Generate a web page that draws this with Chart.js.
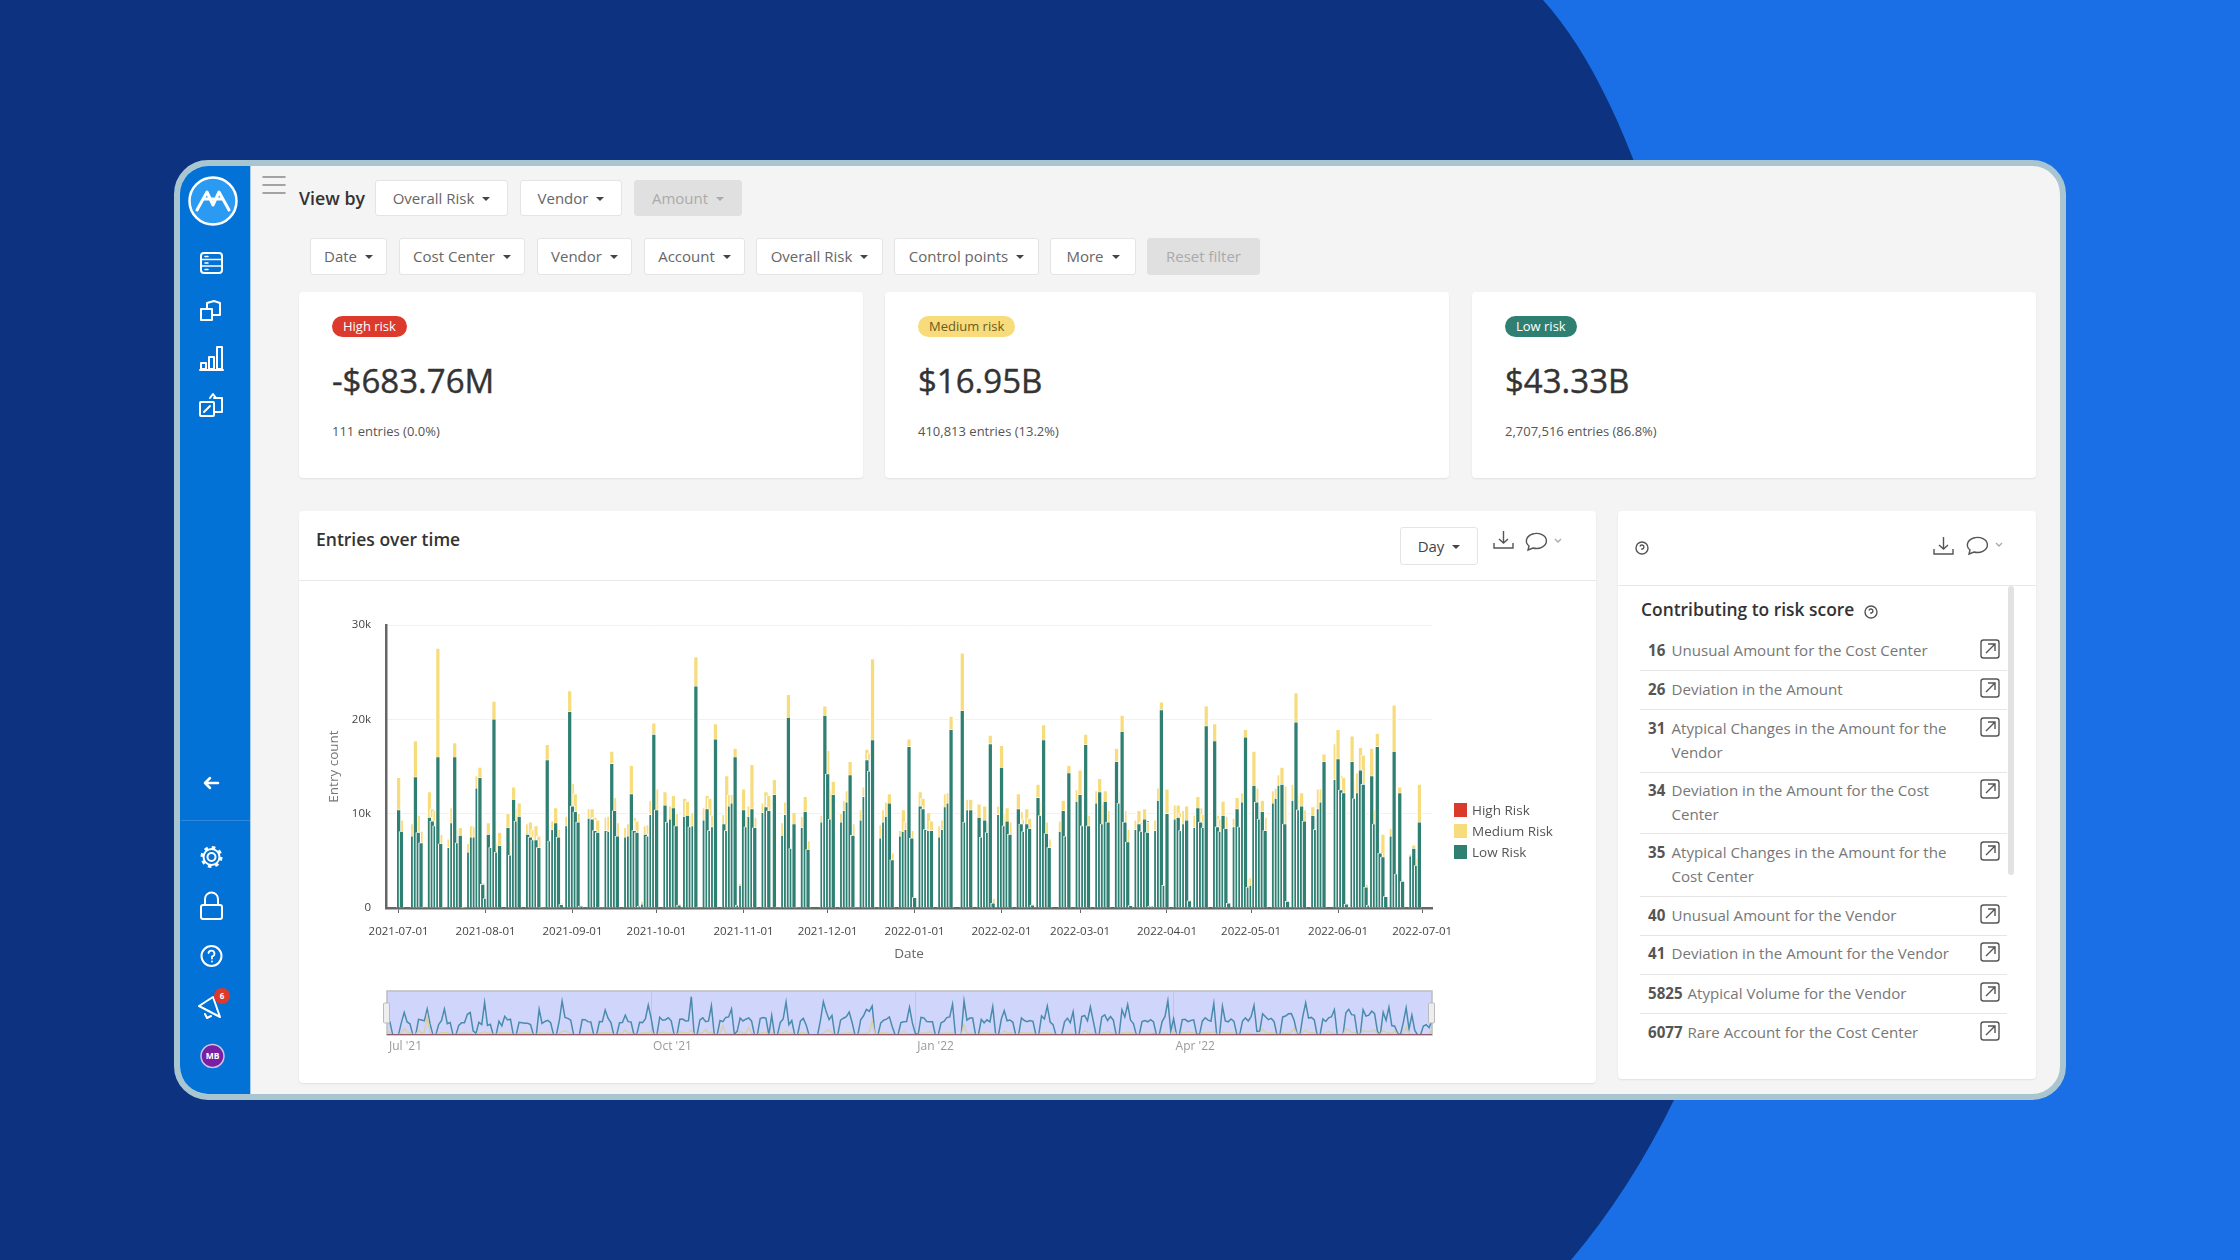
<!DOCTYPE html>
<html>
<head>
<meta charset="utf-8">
<title>Entries over time</title>
<script src="https://cdn.jsdelivr.net/npm/chart.js@4/dist/chart.umd.min.js"></script>
<style>
html, body { margin: 0; padding: 0; width: 2240px; height: 1260px; overflow: hidden; background: #0d3380; font-family: "Open Sans", sans-serif; color: #333; }
.abs, .btn, .card { position: absolute; }
.frame { left: 174px; top: 160px; width: 1880px; height: 928px; border: 6px solid #a9c6d0; border-radius: 34px; background: #f4f4f4; overflow: hidden; }
.side { position: absolute; left: 0; top: 0; width: 70px; height: 100%; background: #0272d6; border-right: 1px solid #a8cdf0; }
.btn { background: #fff; border: 1px solid #e4e4e4; border-radius: 3px; box-sizing: border-box; font-size: 15px; color: #666; display: flex; align-items: center; justify-content: center; gap: 8px; padding-bottom: 1px; }
.btn::after { content: ""; border-left: 4.5px solid transparent; border-right: 4.5px solid transparent; border-top: 4.5px solid #444; margin-top: 2px; }
.btn.off { background: #e0e0e0; border-color: #e0e0e0; color: #aaa; }
.btn.off::after { border-top-color: #aaa; }
.btn.plain::after { display: none; }
.card { background: #fff; border-radius: 4px; box-shadow: 0 1px 2px rgba(0,0,0,.08); }
.badge { position: absolute; left: 33px; top: 24px; height: 21px; line-height: 21px; border-radius: 11px; padding: 0 11px; font-size: 13px; }
.big { position: absolute; left: 33px; top: 65px; font-size: 33px; font-weight: 400; -webkit-text-stroke: 0.4px #333; line-height: 48px; color: #333; }
.sub { position: absolute; left: 33px; top: 128.5px; font-size: 13px; line-height: 20px; color: #555; }
.legend { font-size: 13.5px; color: #555; line-height: 14px; }
.legend i { position: absolute; left: -18px; width: 13px; height: 14px; }
.row { position: absolute; left: 1648px; font-size: 15.1px; line-height: 23.5px; color: #777; }
.row b { color: #555; font-weight: 700; }
.rule { position: absolute; left: 1640px; width: 367px; height: 1px; background: #e6e6e6; }
svg { position: absolute; overflow: visible; }
</style>
</head>
<body>
<svg class="abs" style="left:0;top:0" width="2240" height="1260"><path d="M1543 0 C1680 150 1790 640 1674 1100 Q1630 1190 1571 1260 L2240 1260 L2240 0 Z" fill="#1a6fe6"/></svg>
<div class="abs frame"><div class="side"></div></div>
<div id="ui"></div>

<svg class="icons" style="left:0;top:0" width="2240" height="1260" fill="none" stroke="#fff" stroke-width="2" stroke-linejoin="round" stroke-linecap="round">
  <circle cx="213" cy="201" r="23.5" fill="#2b9af3" stroke-width="2.5"/>
  <path d="M197 210 L207 192 L213 205 L219 192 L229 210 M203 199 L223 199" stroke-width="3"/>
  <rect x="201" y="253" width="21" height="20" rx="3"/><path d="M201 259.5H222M201 266H222M205 256.5H208M205 263H208M205 269.5H208" stroke-width="1.5"/>
  <path d="M201 309H212V320H201Z M207 309V303L214 301L220 303V315H212" />
  <path d="M201 369V363H206V369ZM209 369V357H214V369ZM217 369V347H222V369Z"/><path d="M200 370H223"/>
  <rect x="200" y="402" width="14" height="14" rx="1"/><path d="M214 398H222V412H214M210 398L213 394L216 398M204 412L210 406"/>
  <path d="M205 783H218M205 783L210 778M205 783L210 788" stroke-width="2.5"/>
  <circle cx="211.500" cy="857" r="4"/><circle cx="211.500" cy="857" r="8"/><circle cx="211.500" cy="857" r="9.500" stroke-width="3" stroke-linecap="butt" stroke-dasharray="3.500 3.960"/>
  <rect x="201" y="905" width="21" height="14" rx="2"/><path d="M205 905V899A6.500 6.500 0 0 1 218 899V905"/>
  <circle cx="211.500" cy="956" r="10"/><path d="M208.500 953A3 3 0 1 1 212 956.500V958.500M212 961.500V961.600" stroke-width="1.8"/>
  <path d="M199 1006L213 997L220 1017ZM205 1014L207 1018L211 1016"/>
  <circle cx="222" cy="996" r="8" fill="#dc3a2c" stroke="none"/>
  <circle cx="212.500" cy="1056" r="11.500" fill="#7b1fa2" stroke="#cfc2e6" stroke-width="1.500"/>
  <path d="M263 177H285M263 185H285M263 193H285" stroke="#888" stroke-width="1.5"/>
</svg>
<div class="abs" style="left:218px;top:989px;width:8px;text-align:center;font-size:8px;color:#fff;line-height:14px;font-weight:700">6</div>
<div class="abs" style="left:200px;top:1049px;width:25px;text-align:center;font-size:8.5px;color:#fff;line-height:14px;font-weight:700">MB</div>
<div class="abs" style="left:181px;top:820px;width:69px;height:1px;background:#2e88dd"></div>

<canvas id="mainChart" class="abs" style="left:320px;top:610px"></canvas>
<canvas id="brushChart" class="abs" style="left:360px;top:985px"></canvas>
<svg class="icons" style="left:0;top:0;pointer-events:none" width="2240" height="1260">
  <rect x="383.500" y="1003" width="6" height="20" rx="1" fill="#eee" stroke="#bbb"/>
  <rect x="1428.500" y="1003" width="6" height="20" rx="1" fill="#eee" stroke="#bbb"/>
</svg>

<div class="abs legend" style="left:1472px;top:803px"><i style="background:#d93a2b"></i>High Risk</div>
<div class="abs legend" style="left:1472px;top:824px"><i style="background:#f7dc7e"></i>Medium Risk</div>
<div class="abs legend" style="left:1472px;top:845px"><i style="background:#2f8073"></i>Low Risk</div>

<script>
// one value per day from 2021-07-01 to 2022-06-30, seven days a line
const lowRisk = [
  10400, 8100, 0, 0, 0, 7600, 13900,
  8000, 6900, 100, 50, 9600, 9200, 8700,
  16000, 6800, 80, 0, 6400, 9000, 16000,
  6900, 7700, 50, 0, 5900, 7500, 7500,
  12700, 13800, 2500, 1000, 7800, 6400, 20000,
  5900, 6600, 0, 0, 8500, 5600, 11500,
  9200, 9700, 0, 0, 7800, 7500, 7200,
  7200, 6400, 60, 0, 15700, 7100, 8300,
  9000, 7500, 350, 0, 8700, 20800, 10800,
  10200, 9100, 200, 0, 0, 9500, 9400,
  8200, 8000, 100, 0, 8200, 8100, 15300,
  10300, 7600, 0, 0, 7500, 7600, 12100,
  8200, 8000, 200, 400, 7800, 7600, 9900,
  18400, 10400, 0, 0, 10900, 9100, 9400,
  10600, 8700, 300, 0, 9700, 9800, 8600,
  8700, 23500, 100, 0, 9300, 10500, 8200,
  8600, 17900, 0, 0, 8900, 8200, 10800,
  11100, 16000, 300, 2400, 10400, 8600, 9700,
  10500, 8500, 0, 0, 10100, 10700, 10300,
  0, 12000, 100, 0, 7700, 9900, 20200,
  6300, 8900, 80, 0, 8500, 10200, 6200,
  0, 0, 0, 0, 9100, 20400, 14200,
  9400, 12000, 0, 0, 9100, 10300, 11200,
  14100, 7700, 100, 0, 9300, 11800, 15700,
  14500, 17800, 0, 0, 7400, 9100, 9700,
  11100, 5100, 0, 0, 7600, 8100, 8300,
  17100, 7400, 1100, 0, 10800, 10500, 8300,
  8200, 8200, 0, 0, 7500, 8300, 10700,
  11100, 18900, 0, 0, 0, 20900, 9100,
  10400, 10400, 0, 0, 9600, 7500, 9300,
  8000, 17400, 500, 0, 9900, 14900, 8700,
  9200, 7800, 0, 0, 10500, 8900, 8100,
  8900, 8400, 300, 0, 11700, 9800, 17800,
  7900, 6400, 0, 0, 0, 8100, 10300,
  7600, 14300, 0, 0, 11300, 12000, 8700,
  17300, 8700, 0, 0, 11100, 12300, 8900,
  11300, 9100, 0, 0, 15500, 11100, 18700,
  9100, 7000, 250, 0, 8300, 8900, 8100,
  9400, 8000, 200, 200, 8200, 11400, 21000,
  2400, 10000, 0, 0, 9400, 9600, 8200,
  8900, 9300, 750, 100, 8500, 10600, 9100,
  8500, 19300, 0, 0, 17700, 8600, 8100,
  9800, 8400, 500, 0, 8600, 10500, 8600,
  11200, 18100, 2200, 2400, 13000, 11200, 9400,
  10200, 8200, 0, 0, 11100, 11600, 13000,
  13100, 8900, 700, 0, 11400, 19700, 10400,
  10800, 9200, 0, 0, 9800, 8300, 10500,
  11200, 15500, 0, 0, 0, 13600, 15800,
  12500, 12200, 400, 100, 15500, 11600, 12200,
  14600, 13100, 2200, 300, 14000, 8900, 17100,
  5800, 5400, 1200, 0, 7600, 16600, 3600,
  12200, 2800, 0, 0, 5500, 6300, 4500,
  9100
];
const mediumRisk = [
  3400, 1200, 0, 0, 0, 1300, 3800,
  1800, 1200, 50, 0, 2700, 1300, 1600,
  11500, 1000, 20, 0, 900, 1600, 1500,
  1400, 800, 10, 0, 900, 1200, 1100,
  1300, 1100, 200, 300, 1200, 1300, 1900,
  1000, 1400, 0, 0, 1500, 1400, 1300,
  1300, 1400, 0, 0, 1100, 1600, 1100,
  1500, 1200, 0, 0, 1600, 1100, 900,
  1600, 800, 150, 0, 1000, 2200, 2400,
  1900, 900, 50, 0, 0, 1000, 1100,
  1400, 1300, 0, 0, 1400, 1600, 1300,
  1400, 1400, 0, 0, 1000, 1300, 3000,
  1400, 1200, 50, 300, 900, 1200, 1500,
  1200, 2200, 0, 0, 1400, 1700, 1400,
  1300, 1300, 100, 0, 1900, 1500, 1200,
  1400, 3100, 0, 0, 1300, 1400, 3400,
  1200, 1600, 0, 0, 1000, 5800, 1200,
  900, 900, 50, 200, 2200, 1100, 1100,
  4700, 1100, 0, 0, 1000, 1600, 1600,
  0, 1600, 0, 0, 1300, 1300, 2400,
  1200, 1200, 0, 0, 1200, 1600, 900,
  0, 0, 0, 0, 700, 1000, 2500,
  3100, 1400, 0, 0, 900, 1100, 1200,
  1400, 1200, 0, 0, 1100, 1000, 1100,
  1900, 8600, 0, 0, 1400, 1300, 1500,
  1000, 700, 0, 0, 600, 2300, 800,
  800, 800, 100, 0, 1500, 1100, 1400,
  1900, 1000, 0, 0, 1200, 1000, 1400,
  1100, 1400, 0, 0, 0, 6100, 1000,
  1100, 1100, 0, 0, 1400, 1200, 1500,
  1100, 900, 500, 0, 900, 2300, 1300,
  1400, 1300, 0, 0, 1600, 1300, 1300,
  1600, 1100, 50, 0, 1400, 1400, 1600,
  1200, 900, 0, 0, 0, 1100, 1100,
  1000, 800, 0, 0, 1200, 2600, 1400,
  1100, 1100, 0, 0, 1300, 1400, 2100,
  1100, 1200, 0, 0, 1400, 1200, 1700,
  1200, 1300, 0, 0, 1000, 1400, 1000,
  1100, 1100, 0, 0, 1100, 1300, 800,
  100, 2600, 0, 0, 1500, 1300, 1900,
  1400, 1500, 50, 0, 1300, 1200, 1500,
  1400, 2100, 0, 0, 1800, 1200, 1300,
  1500, 1300, 0, 0, 900, 1200, 1300,
  1000, 800, 900, 800, 3600, 1500, 1400,
  1200, 1400, 0, 0, 1300, 1100, 1100,
  1800, 4000, 50, 0, 1700, 3100, 1600,
  1400, 1200, 0, 0, 900, 1300, 2100,
  1400, 800, 0, 0, 0, 3800, 3100,
  1500, 1600, 50, 0, 2700, 2100, 2100,
  2400, 3100, 300, 350, 2900, 1500, 1400,
  1000, 2400, 0, 0, 800, 4900, 800,
  600, 100, 0, 0, 200, 350, 700,
  4000
];
const highRisk = [
  0, 0, 0, 0, 0, 0, 0,  0, 0, 0, 0, 0, 0, 0,  0, 0, 0, 0, 0, 0, 0,  0, 0, 0, 0, 0, 0, 0,
  0, 0, 0, 0, 0, 0, 0,  0, 0, 0, 0, 0, 0, 0,  0, 0, 0, 0, 0, 0, 0,  0, 0, 0, 0, 0, 0, 0,
  0, 0, 0, 0, 0, 0, 0,  0, 0, 0, 0, 0, 0, 0,  0, 0, 0, 0, 0, 0, 0,  0, 0, 0, 0, 0, 0, 0,
  0, 0, 0, 0, 0, 0, 0,  0, 0, 0, 0, 0, 0, 0,  0, 0, 0, 0, 0, 0, 0,  0, 0, 0, 0, 0, 0, 0,
  0, 0, 0, 0, 0, 0, 0,  0, 0, 0, 0, 0, 0, 0,  0, 0, 0, 0, 0, 0, 0,  0, 0, 0, 0, 0, 0, 0,
  0, 0, 0, 0, 0, 0, 0,  0, 0, 0, 0, 0, 0, 0,  0, 0, 0, 0, 0, 0, 0,  0, 0, 0, 0, 0, 0, 0,
  0, 0, 0, 0, 0, 0, 0,  0, 0, 0, 0, 0, 0, 0,  0, 0, 0, 0, 0, 0, 0,  0, 0, 0, 0, 0, 0, 0,
  0, 0, 0, 0, 0, 0, 0,  0, 0, 0, 0, 0, 0, 0,  0, 0, 0, 0, 0, 0, 0,  0, 0, 0, 0, 0, 0, 0,
  0, 0, 0, 0, 0, 0, 0,  0, 0, 0, 0, 0, 0, 0,  0, 0, 0, 0, 0, 0, 0,  0, 0, 0, 0, 0, 0, 0,
  0, 0, 0, 0, 0, 0, 0,  0, 0, 0, 0, 0, 0, 0,  0, 100, 0, 0, 0, 0, 0,  0, 0, 0, 0, 0, 0, 0,
  0, 0, 0, 0, 0, 0, 0,  0, 0, 0, 0, 0, 0, 0,  0, 0, 0, 0, 0, 0, 0,  0, 0, 0, 0, 0, 0, 0,
  0, 0, 0, 0, 0, 0, 0,  0, 0, 0, 0, 0, 0, 0,  0, 0, 0, 0, 0, 0, 0,  0, 0, 0, 0, 0, 0, 0,
  0, 0, 0, 0, 0, 0, 0,  0, 0, 0, 0, 0, 0, 0,  0, 0, 0, 0, 0, 0, 0,  0, 0, 0, 0, 0, 0, 0,
  0
];
const yTicks = [0, 10000, 20000, 30000];
const monthTicks = ['2021-07-01', '2021-08-01', '2021-09-01', '2021-10-01', '2021-11-01', '2021-12-01', '2022-01-01',
  '2022-02-01', '2022-03-01', '2022-04-01', '2022-05-01', '2022-06-01', '2022-07-01'];
const brushTicks = { '2021-07-01': "Jul '21", '2021-10-01': "Oct '21", '2022-01-01': "Jan '22", '2022-04-01': "Apr '22" };

const dateLabel = (offset) => new Date(Date.UTC(2021, 6, 1 + offset)).toISOString().slice(0, 10);

// the main axis runs a few days past both ends
const padStart = 4;
const padEnd = 4;
const mainLabels = [];
for (let i = -padStart; i < lowRisk.length + padEnd; i++) mainLabels.push(dateLabel(i));
const brushLabels = lowRisk.map((_, i) => dateLabel(i));
const padded = (values) => [...Array(padStart).fill(null), ...values, ...Array(padEnd).fill(null)];

// wide bars with white sides, so neighbours nibble each other like the original strokes do
const barStyle = { borderColor: '#fff', borderWidth: { left: 1.2, right: 1.2, top: 0.6, bottom: 0 }, barThickness: 5, borderSkipped: false };
const fontOf = (size) => ({ family: '"Open Sans", sans-serif', size });

function sizeCanvas(id, w, h) {
    const c = document.getElementById(id);
    c.width = w;
    c.height = h;
    c.style.width = w + 'px';
    c.style.height = h + 'px';
    return c;
}

new Chart(sizeCanvas('mainChart', 1130, 356), {
    type: 'bar',
    data: {
        labels: mainLabels,
        datasets: [
            { label: 'Low Risk', data: padded(lowRisk), backgroundColor: '#2f8073', ...barStyle },
            { label: 'Medium Risk', data: padded(mediumRisk), backgroundColor: '#f7dc7e', ...barStyle },
            { label: 'High Risk', data: padded(highRisk), backgroundColor: '#d93a2b', ...barStyle }
        ]
    },
    options: {
        responsive: false,
        animation: false,
        layout: { padding: { top: 15, right: 18 } },
        plugins: { legend: { display: false }, tooltip: { enabled: false } },
        scales: {
            x: {
                stacked: true,
                offset: true,
                grid: { offset: false, drawOnChartArea: false, tickColor: '#666', tickLength: 5 },
                border: { color: '#666', width: 2.5 },
                title: { display: true, text: 'Date', color: '#666', font: fontOf(13.5), padding: { top: 0, bottom: 4 } },
                ticks: {
                    autoSkip: false,
                    maxRotation: 0,
                    padding: 12,
                    color: '#444',
                    font: fontOf(11.5),
                    callback(value) { return this.getLabelForValue(value); }
                },
                afterBuildTicks: (scale) => { scale.ticks = scale.ticks.filter((t) => monthTicks.includes(mainLabels[t.value])); },
                afterFit: (scale) => { scale.height = 58; scale.paddingLeft = 0; scale.paddingRight = 0; }
            },
            y: {
                stacked: true,
                min: 0,
                max: 30000,
                grid: { color: '#f1f1f1', drawTicks: false },
                border: { color: '#666', width: 2.5 },
                title: { display: true, text: 'Entry count', color: '#777', font: fontOf(13.5), padding: { top: 6, bottom: 0 } },
                ticks: {
                    padding: 15,
                    color: '#444',
                    font: fontOf(11.5),
                    callback: (value) => (value ? value / 1000 + 'k' : '0')
                },
                afterBuildTicks: (scale) => { scale.ticks = yTicks.map((value) => ({ value })); },
                afterFit: (scale) => { scale.width = 66; scale.paddingTop = 0; scale.paddingBottom = 0; }
            }
        }
    }
});

// lavender selection rectangle behind the overview lines
const brushBack = {
    id: 'brushBack',
    beforeDraw(chart) {
        const { ctx, chartArea: a } = chart;
        ctx.save();
        ctx.fillStyle = '#d0d6fb';
        ctx.strokeStyle = '#bdbdbd';
        ctx.lineWidth = 1.5;
        ctx.fillRect(a.left, a.top, a.right - a.left, a.bottom - a.top);
        ctx.strokeRect(a.left, a.top, a.right - a.left, a.bottom - a.top);
        ctx.restore();
    }
};
const lineStyle = { borderWidth: 1.5, pointRadius: 0, tension: 0 };

new Chart(sizeCanvas('brushChart', 1100, 80), {
    type: 'line',
    data: {
        labels: brushLabels,
        datasets: [
            { data: highRisk, borderColor: '#8f5a6a', ...lineStyle, borderWidth: 2 },
            { data: mediumRisk, borderColor: '#d9cfa6', ...lineStyle },
            { data: lowRisk, borderColor: '#4a8bad', ...lineStyle }
        ]
    },
    plugins: [brushBack],
    options: {
        responsive: false,
        animation: false,
        layout: { padding: { left: 27, right: 28, top: 6 } },
        plugins: { legend: { display: false }, tooltip: { enabled: false } },
        scales: {
            x: {
                grid: {
                    color: (c) => (c.index === 0 ? 'transparent' : '#bcc4f2'),
                    drawTicks: false
                },
                border: { display: false },
                ticks: {
                    autoSkip: false,
                    maxRotation: 0,
                    align: 'start',
                    labelOffset: 2,
                    padding: 4,
                    color: '#999',
                    font: fontOf(12),
                    callback(value) { return brushTicks[this.getLabelForValue(value)]; }
                },
                afterBuildTicks: (scale) => { scale.ticks = scale.ticks.filter((t) => brushTicks[brushLabels[t.value]]); },
                afterFit: (scale) => { scale.height = 30; scale.paddingLeft = 0; scale.paddingRight = 0; }
            },
            y: { display: false, min: 0, max: 27000 }
        }
    }
});

// the dashboard around the charts
const viewButtons = [['Overall Risk', 375, 133], ['Vendor', 520, 102], ['Amount', 634, 108, 'off']];
const filterButtons = [['Date', 310, 77], ['Cost Center', 399, 126], ['Vendor', 537, 95], ['Account', 644, 101],
    ['Overall Risk', 756, 127], ['Control points', 894, 145], ['More', 1050, 86], ['Reset filter', 1147, 113, 'off plain']];
const riskCards = [
    ['High risk', '#dc3a2c', '#fff', '-$683.76M', '111 entries (0.0%)', 299],
    ['Medium risk', '#f8dc7c', '#6b5a1e', '$16.95B', '410,813 entries (13.2%)', 885],
    ['Low risk', '#2f8073', '#fff', '$43.33B', '2,707,516 entries (86.8%)', 1472]
];
const riskRows = [
    ['16', 'Unusual Amount for the Cost Center', 640, 670],
    ['26', 'Deviation in the Amount', 679, 709],
    ['31', 'Atypical Changes in the Amount for the Vendor', 718, 772],
    ['34', 'Deviation in the Amount for the Cost Center', 780, 833],
    ['35', 'Atypical Changes in the Amount for the Cost Center', 842, 896],
    ['40', 'Unusual Amount for the Vendor', 905, 935],
    ['41', 'Deviation in the Amount for the Vendor', 943, 974],
    ['5825', 'Atypical Volume for the Vendor', 983, 1013],
    ['6077', 'Rare Account for the Cost Center', 1022, null]
];

let html = '';
html += '<div class="abs" style="left:299px;top:186px;font-size:17.8px;line-height:24px;font-weight:600;color:#333">View by</div>';
viewButtons.forEach(([t, x, w, c]) => { html += `<div class="btn ${c || ''}" style="left:${x}px;top:180px;width:${w}px;height:36px">${t}</div>`; });
filterButtons.forEach(([t, x, w, c]) => { html += `<div class="btn ${c || ''}" style="left:${x}px;top:238px;width:${w}px;height:37px">${t}</div>`; });
riskCards.forEach(([tag, bg, fg, big, sub, x]) => {
    html += `<div class="card" style="left:${x}px;top:292px;width:564px;height:186px">
      <div class="badge" style="background:${bg};color:${fg}">${tag}</div><div class="big">${big}</div><div class="sub">${sub}</div></div>`;
});
html += '<div class="card" style="left:299px;top:511px;width:1297px;height:572px"></div>';
html += '<div class="abs" style="left:299px;top:580px;width:1297px;height:1px;background:#e8e8e8"></div>';
html += '<div class="abs" style="left:316px;top:527px;font-size:17.5px;line-height:24px;font-weight:600;color:#333">Entries over time</div>';
html += '<div class="btn" style="left:1400px;top:527px;width:78px;height:38px;font-size:15px;color:#444">Day</div>';
html += '<div class="card" style="left:1618px;top:511px;width:418px;height:568px"></div>';
html += '<div class="abs" style="left:1618px;top:585px;width:418px;height:1px;background:#e8e8e8"></div>';
html += '<div class="abs" style="left:2008px;top:586px;width:6px;height:289px;border-radius:3px;background:#e2e2e2"></div>';
html += '<div class="abs" style="left:1641px;top:596px;font-size:17.4px;line-height:26px;font-weight:600;color:#333">Contributing to risk score</div>';
let icons = '';
riskRows.forEach(([n, t, top, rule]) => {
    const bold = n.length > 2 ? 39.5 : 23.5;
    html += `<div class="row" style="top:${top - 1}px;padding-left:${bold}px;width:${322 - bold}px"><b style="position:absolute;left:0">${n}</b>${t}</div>`;
    if (rule) html += `<div class="rule" style="top:${rule}px"></div>`;
    icons += `<rect x="1981" y="${top}" width="18" height="18" rx="2.5"/><path d="M1986 ${top + 13}L1995 ${top + 4}M1988 ${top + 4}H1995V${top + 11}"/>`;
});
const saveIcon = (x, y) => `<path d="M${x} ${y + 12}V${y + 17}H${x + 19}V${y + 12}M${x + 9.5} ${y}V${y + 12}M${x + 5} ${y + 8}L${x + 9.5} ${y + 12}L${x + 14} ${y + 8}"/>`;
const noteIcon = (x, y) => `<path d="M${x + 3} ${y + 13}A10 7.500 0 1 1 ${x + 7} ${y + 15}L${x + 2} ${y + 17}Z"/><path d="M${x + 29} ${y + 6}L${x + 32} ${y + 9}L${x + 35} ${y + 6}" stroke="#aaa"/>`;
const helpIcon = (x, y) => `<circle cx="${x}" cy="${y}" r="6"/><path d="M${x - 2} ${y - 1.500}A2 2 0 1 1 ${x} ${y + 1}V${y + 2}" />`;
document.getElementById('ui').innerHTML = html;
const overlay = document.createElementNS('http://www.w3.org/2000/svg', 'svg');
overlay.setAttribute('width', 2240);
overlay.setAttribute('height', 1260);
overlay.setAttribute('style', 'left:0;top:0;z-index:2');
overlay.setAttribute('fill', 'none');
overlay.setAttribute('stroke', '#555');
overlay.setAttribute('stroke-width', '1.4');
overlay.innerHTML = icons + saveIcon(1494, 531) + noteIcon(1526, 533) + saveIcon(1934, 537) + noteIcon(1967, 537) + helpIcon(1642, 548) + helpIcon(1871, 612);
document.body.appendChild(overlay);
</script>
</body>
</html>
